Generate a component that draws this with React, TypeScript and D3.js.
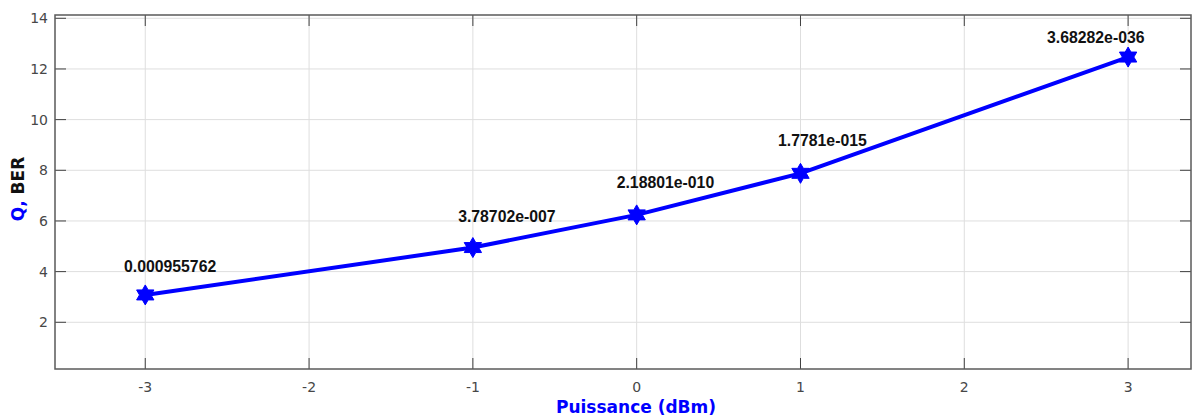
import React from "react";
import * as d3 from "d3";

const powerDbm = [-3, -1, 0, 1, 3];
const qValues = [3.08, 4.95, 6.24, 7.88, 12.47];
const berLabels = ["0.000955762", "3.78702e-007", "2.18801e-010", "1.7781e-015", "3.68282e-036"];
const labelX = [-3.13, -1.09, -0.122, 0.863, 2.505];
const labelY = [3.99, 5.97, 7.29, 8.96, 13.01];
const xTicks = [-3, -2, -1, 0, 1, 2, 3];
const yTicks = [2, 4, 6, 8, 10, 12, 14];

const W = 1193;
const H = 419;
const L = 55, R = 1191, T = 15, B = 369;

function hexagram(cx: number, cy: number, r: number): string {
  const pts: string[] = [];
  const ri = r / Math.sqrt(3);
  for (let i = 0; i < 12; i++) {
    const a = -Math.PI / 2 + (i * Math.PI) / 6;
    const rr = i % 2 === 0 ? r : ri;
    pts.push(`${cx + rr * Math.cos(a)},${cy + rr * Math.sin(a)}`);
  }
  return "M" + pts.join("L") + "Z";
}

export default function App() {
  const x = d3.scaleLinear().domain([-3.551, 3.384]).range([L, R]);
  const y = d3.scaleLinear().domain([0.156, 14.13]).range([B, T]);
  const line = d3
    .line<number>()
    .x((_, i) => x(powerDbm[i]))
    .y((d) => y(d));
  const tickFont = "'DejaVu Sans', Verdana, sans-serif";
  const tickLen = 11;
  return (
    <div style={{ position: "absolute", left: 0, top: 0 }}>
      <svg width={W} height={H} style={{ display: "block", background: "#fff" }}>
        {/* grid */}
        {xTicks.map((t) => (
          <line key={"gx" + t} x1={x(t)} x2={x(t)} y1={T} y2={B} stroke="#dedede" strokeWidth={1} />
        ))}
        {yTicks.map((t) => (
          <line key={"gy" + t} x1={L} x2={R} y1={y(t)} y2={y(t)} stroke="#dedede" strokeWidth={1} />
        ))}
        {/* ticks */}
        {xTicks.map((t) => (
          <g key={"tx" + t}>
            <line x1={x(t)} x2={x(t)} y1={B} y2={B - tickLen} stroke="#404040" strokeWidth={1} />
            <line x1={x(t)} x2={x(t)} y1={T} y2={T + tickLen} stroke="#404040" strokeWidth={1} />
            <text x={x(t)} y={392} textAnchor="middle" fontFamily={tickFont} fontSize={14} fill="#474747">
              {String(t)}
            </text>
          </g>
        ))}
        {yTicks.map((t) => (
          <g key={"ty" + t}>
            <line x1={L} x2={L + tickLen} y1={y(t)} y2={y(t)} stroke="#404040" strokeWidth={1} />
            <line x1={R} x2={R - tickLen} y1={y(t)} y2={y(t)} stroke="#404040" strokeWidth={1} />
            <text x={48} y={y(t) + 5} textAnchor="end" fontFamily={tickFont} fontSize={14} fill="#474747">
              {String(t)}
            </text>
          </g>
        ))}
        {/* box */}
        <rect x={L} y={T} width={R - L} height={B - T} fill="none" stroke="#5a5a5a" strokeWidth={1.5} />
        {/* line */}
        <path d={line(qValues) || ""} fill="none" stroke="#0000ff" strokeWidth={4} strokeLinejoin="round" />
        {qValues.map((v, i) => (
          <path key={"m" + i} d={hexagram(x(powerDbm[i]), y(v), 10)} fill="#0000ff" stroke="#0000ff" strokeWidth={1} />
        ))}
        {/* labels */}
        {berLabels.map((s, i) => (
          <text
            key={"l" + i}
            x={x(labelX[i])}
            y={y(labelY[i])}
            fontFamily="'Liberation Sans', Arial, sans-serif"
            fontWeight="bold"
            fontSize={15.8}
            fill="#111"
          >
            {s}
          </text>
        ))}
        {/* axis titles */}
        <text
          x={(L + R) / 2 + 13}
          y={413}
          textAnchor="middle"
          fontFamily={tickFont}
          fontWeight="bold"
          fontSize={17}
          fill="#0000ff"
        >
          Puissance (dBm)
        </text>
        <text
          transform={`translate(24, 189) rotate(-90)`}
          textAnchor="middle"
          fontFamily={tickFont}
          fontWeight="bold"
          fontSize={17}
        >
          <tspan fill="#0000ff">Q,</tspan>
          <tspan fill="#111"> BER</tspan>
        </text>
      </svg>
    </div>
  );
}
